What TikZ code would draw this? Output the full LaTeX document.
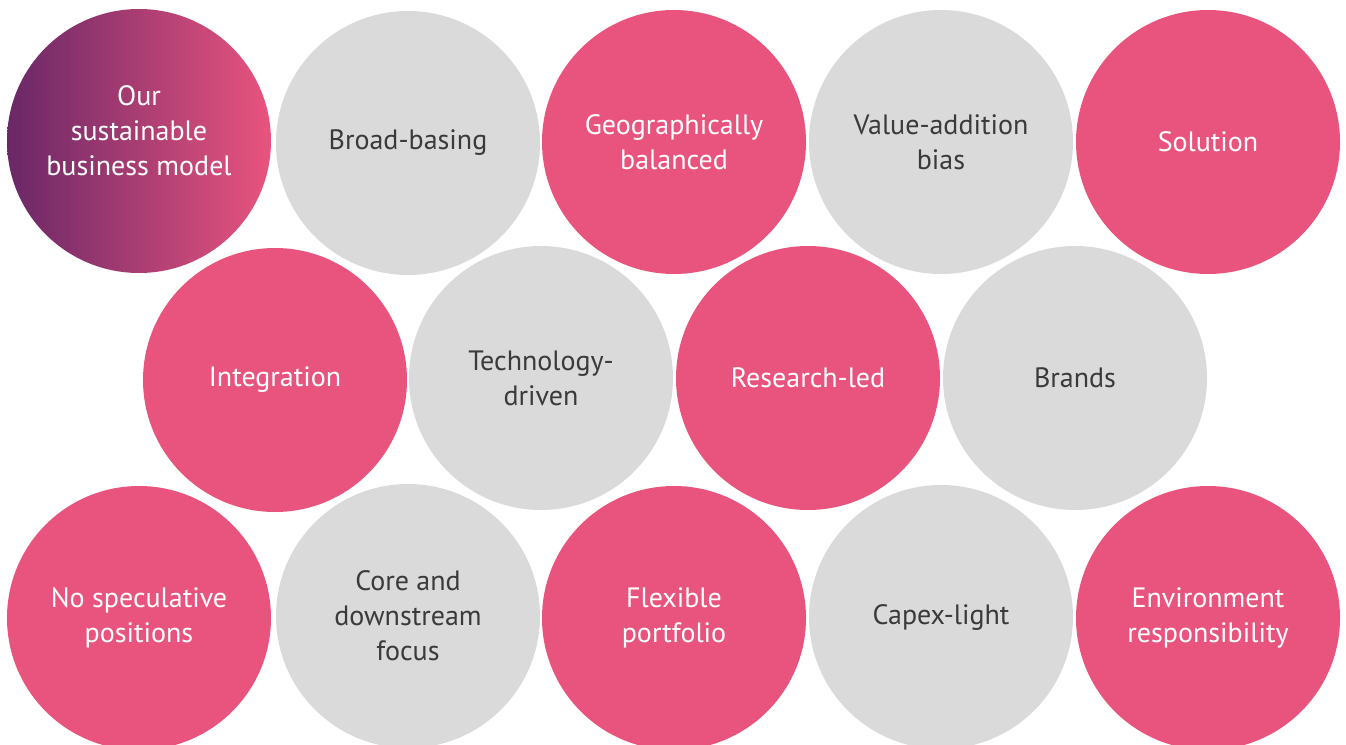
\documentclass[tikz,border=0pt]{standalone}
\usepackage{fontspec}
\setmainfont{PT Sans}
\definecolor{pinkc}{HTML}{E9547E}
\definecolor{greyc}{HTML}{DADADA}
\definecolor{txtgrey}{HTML}{3A3A3A}
\definecolor{purplec}{HTML}{6A2767}
\begin{document}
\begin{tikzpicture}[x=1pt,y=-1pt,
  bubfont/.style={align=center,font=\fontsize{28}{35}\selectfont},
  bub/.style={circle,minimum size=264pt,inner sep=0pt,bubfont},
  pinkbub/.style={bub,fill=pinkc,text=white},
  greybub/.style={bub,fill=greyc,text=txtgrey},
  gradbub/.style={bub,left color=purplec,right color=pinkc,text=white}]
\useasboundingbox (0,0) rectangle (1346,744);
\clip (0,0) rectangle (1346,744);
% row 1
\node[gradbub] (our) at (139,141) {};
\node[bubfont,text=white,inner sep=0pt] (ourtxt) at (139,131) {Our\\sustainable\\business model};
\node[greybub] (broad) at (408,143) {Broad-basing};
\node[pinkbub] (geo) at (674,142) {Geographically\\balanced};
\node[greybub] (value) at (941,142) {Value-addition\\bias};
\node[pinkbub] (sol) at (1208,142) {Solution};
% row 2
\node[pinkbub] (integ) at (275,380) {Integration};
\node[greybub] (tech) at (541,378) {Technology-\\driven};
\node[pinkbub] (res) at (808,378) {Research-led};
\node[greybub] (brands) at (1075,378) {Brands};
% row 3
\node[pinkbub] (nospec) at (139,618) {No speculative\\positions};
\node[greybub] (core) at (408,616) {Core and\\downstream\\focus};
\node[pinkbub] (flex) at (674,618) {Flexible\\portfolio};
\node[greybub] (capex) at (941,617) {Capex-light};
\node[pinkbub] (env) at (1208,618) {Environment\\responsibility};
\end{tikzpicture}
\end{document}
